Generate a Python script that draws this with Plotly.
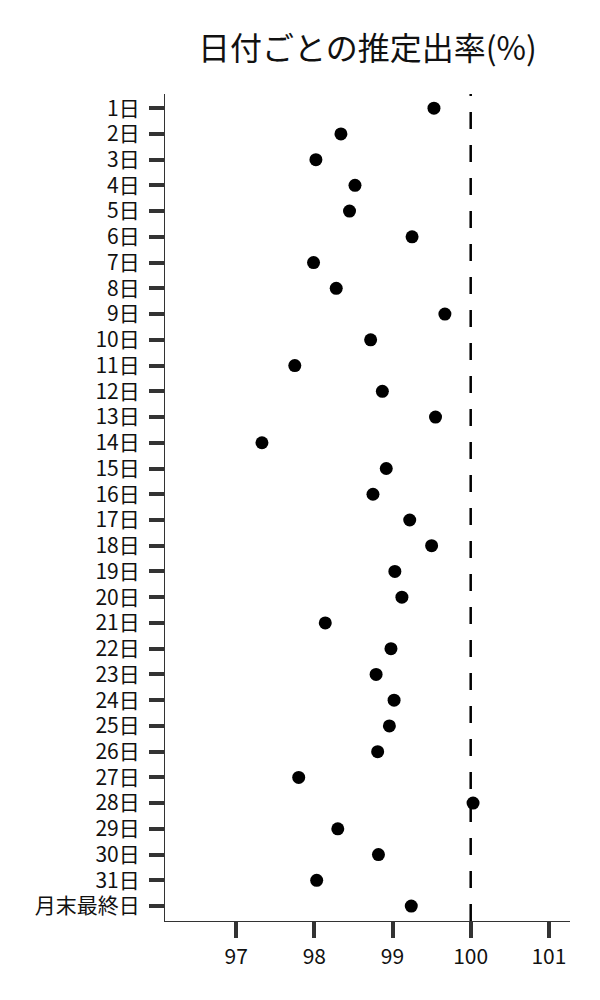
import plotly.graph_objects as go

# 日付ラベル
days = [f"{i}日" for i in range(1, 32)] + ["月末最終日"]

# 推定出率(%)
rates = [
    99.53, 98.34, 98.02, 98.52, 98.45, 99.25, 97.99, 98.28, 99.67, 98.72,
    97.75, 98.87, 99.55, 97.33, 98.92, 98.75, 99.22, 99.50, 99.03, 99.12,
    98.14, 98.98, 98.79, 99.02, 98.96, 98.81, 97.80, 100.03, 98.30, 98.82,
    98.03, 99.24,
]

x_ticks = [97, 98, 99, 100, 101]
ref_value = 100

FONT = "Noto Sans CJK JP"

fig = go.Figure()

fig.add_trace(
    go.Scatter(
        x=rates,
        y=days,
        mode="markers",
        marker=dict(size=13, color="black"),
        showlegend=False,
        cliponaxis=False,
    )
)

# 100% の基準線
fig.add_shape(
    type="line",
    xref="x",
    yref="paper",
    x0=ref_value,
    x1=ref_value,
    y0=0,
    y1=1,
    line=dict(color="black", width=2.5, dash="17px,16px"),
    layer="below",
)

fig.update_layout(
    width=600,
    height=1000,
    margin=dict(l=157, r=38, t=86, b=87),
    paper_bgcolor="white",
    plot_bgcolor="white",
    font=dict(family=FONT, size=21, color="#111111"),
    title=dict(
        text="日付ごとの推定出率(%)",
        x=0.5,
        xref="paper",
        xanchor="center",
        y=0.959,
        yanchor="middle",
        font=dict(family=FONT, size=32, color="#111111"),
    ),
    xaxis=dict(
        range=[96.09, 101.27],
        tickvals=x_ticks,
        ticktext=[str(v) for v in x_ticks],
        ticks="outside",
        ticklen=16,
        tickwidth=4,
        tickcolor="#333333",
        showline=True,
        linecolor="#333333",
        linewidth=1.2,
        showgrid=False,
        zeroline=False,
        tickfont=dict(size=21),
        ticklabelstandoff=1,
    ),
    yaxis=dict(
        type="category",
        categoryorder="array",
        categoryarray=days,
        range=[31.58, -0.55],
        ticks="outside",
        ticklen=15,
        tickwidth=4,
        tickcolor="#333333",
        showline=True,
        linecolor="#333333",
        linewidth=1.2,
        showgrid=False,
        zeroline=False,
        tickfont=dict(size=21),
        ticklabelstandoff=5,
    ),
)

fig.write_html("out.html")
